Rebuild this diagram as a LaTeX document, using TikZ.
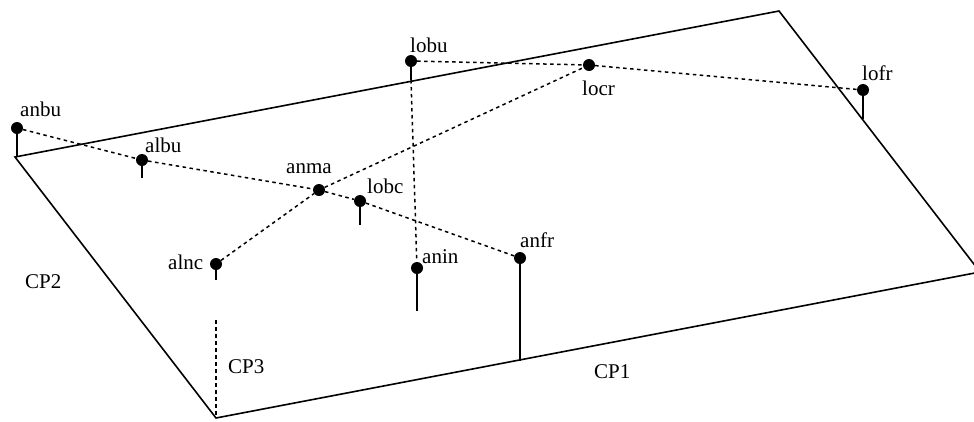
\documentclass[tikz,border=0pt]{standalone}
\usepackage{fontspec}
\setmainfont{Liberation Serif}
\begin{document}
\begin{tikzpicture}[x=1pt,y=-1pt,pt/.style={circle,fill=black,inner sep=0pt,minimum size=12pt},lbl/.style={anchor=base west,inner sep=0pt,font=\fontsize{21}{24}\selectfont},edge/.style={line width=1.6pt},stem/.style={line width=1.6pt},link/.style={line width=1.5pt,dash pattern=on 3.5pt off 3.5pt}]
\useasboundingbox (0,0) rectangle (974,421);
\coordinate (cl) at (15,157);\coordinate (ct) at (779,11);\coordinate (cr) at (980,272);\coordinate (cb) at (216,418);
\draw[edge] (cl)--(ct)--(cr)--(cb)--cycle;
% points with their feet
\node[pt] (anbu) at (17,128) {};\coordinate (anbu-f) at (17,157);
\node[pt] (albu) at (142,160) {};\coordinate (albu-f) at (142,178);
\node[pt] (anma) at (319,190) {};
\node[pt] (lobc) at (360,201) {};\coordinate (lobc-f) at (360,225);
\node[pt] (alnc) at (216,264) {};\coordinate (alnc-f) at (216,280);
\node[pt] (lobu) at (411,61) {};\coordinate (lobu-f) at (411,80);
\node[pt] (locr) at (589,65) {};
\node[pt] (lofr) at (863,90) {};\coordinate (lofr-f) at (863,119);
\node[pt] (anin) at (417,268) {};\coordinate (anin-f) at (417,311);
\node[pt] (anfr) at (520,258) {};\coordinate (anfr-f) at (520,361);
\foreach \p in {anbu,albu,lobc,alnc,lobu,lofr,anin,anfr} \draw[stem] (\p)--(\p-f);
% dotted links
\draw[link] (anbu)--(albu)--(anma)--(lobc)--(anfr);
\draw[link] (alnc)--(anma)--(locr);
\draw[link] (lobu)--(locr)--(lofr);
\draw[link] (lobu-f)--(anin);
\coordinate (cp3-t) at (216,320);\draw[link] (cp3-t)--(cb);
% labels
\node[lbl] (anbu-t) at (20,116) {anbu};\node[lbl] (albu-t) at (145,152) {albu};\node[lbl] (anma-t) at (286,173) {anma};
\node[lbl] (lobc-t) at (367,193) {lobc};\node[lbl] (alnc-t) at (168,269) {alnc};\node[lbl] (lobu-t) at (410,52) {lobu};
\node[lbl] (locr-t) at (582,95) {locr};\node[lbl] (lofr-t) at (862,80) {lofr};\node[lbl] (anin-t) at (422,263) {anin};
\node[lbl] (anfr-t) at (520,247) {anfr};
\node[lbl] (cp1) at (594,378) {CP1};\node[lbl] (cp2) at (25,288) {CP2};\node[lbl] (cp3) at (228,373) {CP3};
\end{tikzpicture}
\end{document}
